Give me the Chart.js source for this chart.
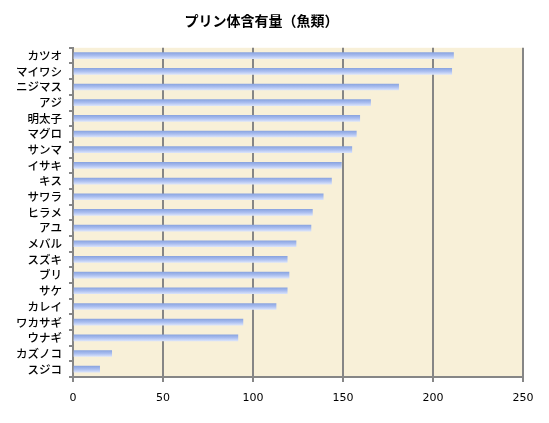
<!DOCTYPE html>
<html>
<head>
<meta charset="utf-8">
<script src="https://cdn.jsdelivr.net/npm/chart.js@4"></script>
<style>
  html, body { margin: 0; padding: 0; background: #fff; }
  #wrap { width: 549px; height: 423px; }
</style>
</head>
<body>
<div id="wrap"><canvas id="purineChart" width="549" height="423"></canvas></div>
<script>
const fishNames = ['カツオ', 'マイワシ', 'ニジマス', 'アジ', '明太子', 'マグロ', 'サンマ', 'イサキ', 'キス', 'サワラ',
    'ヒラメ', 'アユ', 'メバル', 'スズキ', 'ブリ', 'サケ', 'カレイ', 'ワカサギ', 'ウナギ', 'カズノコ', 'スジコ'];
const purineValues = [211.4, 210.4, 180.9, 165.3, 159.3, 157.4, 154.9, 149.1, 143.6, 139.0,
    133.0, 132.2, 123.9, 119.0, 120.0, 119.0, 112.8, 94.4, 91.6, 21.5, 14.8];
const xTicks = [0, 50, 100, 150, 200, 250];
const chartTitle = 'プリン体含有量（魚類）';

const GRID = '#868686';

// parchment fill behind the plot area
const paperBg = {
    id: 'paperBg',
    beforeDraw(chart) {
        const { ctx, chartArea: a } = chart;
        if (!a) return;
        ctx.save();
        ctx.fillStyle = '#f8f0d8';
        ctx.fillRect(a.left, a.top, a.right - a.left, a.bottom - a.top);
        ctx.restore();
    }
};

function barGradient(c) {
    const chart = c.chart;
    const y = chart.scales.y;
    if (!chart.chartArea || !y) return '#a8bcee';
    const mid = y.getPixelForValue(c.dataIndex);
    const g = chart.ctx.createLinearGradient(0, mid - 3, 0, mid + 3);
    g.addColorStop(0, '#8ba5e0');
    g.addColorStop(0.5, '#aabef0');
    g.addColorStop(1, '#d8e2fa');
    return g;
}

new Chart(document.getElementById('purineChart').getContext('2d'), {
    type: 'bar',
    data: {
        labels: fishNames,
        datasets: [{
            data: purineValues,
            backgroundColor: barGradient,
            borderWidth: 0,
            barThickness: 6
        }]
    },
    options: {
        indexAxis: 'y',
        responsive: false,
        animation: false,
        layout: { padding: { right: 26, left: 0, bottom: 0, top: 0 } },
        plugins: {
            legend: { display: false },
            tooltip: { enabled: false },
            title: {
                display: true,
                text: chartTitle,
                color: '#000',
                font: { family: '"Noto Sans CJK JP"', size: 14, weight: 'bold' },
                padding: { top: 12, bottom: 19 }
            }
        },
        scales: {
            x: {
                min: 0,
                max: 250,
                afterBuildTicks(scale) { scale.ticks = xTicks.map(v => ({ value: v })); },
                afterFit(scale) { scale.height = 46; },
                grid: { color: GRID, lineWidth: 2, tickLength: 5, drawTicks: true },
                border: { color: GRID, width: 2 },
                ticks: {
                    color: '#000',
                    padding: 10,
                    font: { family: '"DejaVu Sans"', size: 11 }
                }
            },
            y: {
                afterFit(scale) { scale.width = 73; },
                grid: { drawOnChartArea: false, drawTicks: true, color: GRID, lineWidth: 2, tickLength: 4, offset: true },
                border: { color: GRID, width: 2 },
                ticks: {
                    autoSkip: false,
                    color: '#000',
                    padding: 7,
                    font: { family: '"Noto Sans CJK JP"', size: 11.5, weight: '500' }
                }
            }
        }
    },
    plugins: [paperBg]
});
</script>
</body>
</html>
